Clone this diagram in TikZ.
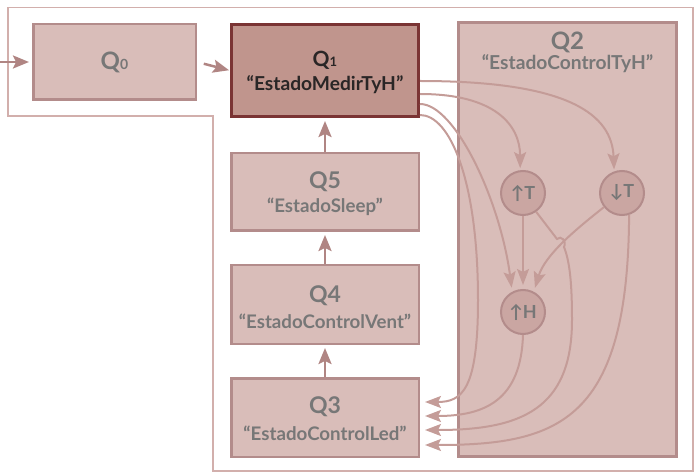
\documentclass[tikz,border=0pt]{standalone}
\usepackage{fontspec}
\setmainfont{Lato}[BoldFont={Lato Bold}]
\usetikzlibrary{arrows.meta}
\definecolor{boxfill}{HTML}{D9BDB9}
\definecolor{boxline}{HTML}{B38C8B}
\definecolor{qonefill}{HTML}{C0958D}
\definecolor{qoneline}{HTML}{7A3434}
\definecolor{txtgray}{HTML}{777777}
\definecolor{txtdark}{HTML}{2A2626}
\definecolor{curvecol}{HTML}{C49C98}
\definecolor{chaincol}{HTML}{B08583}
\definecolor{framecol}{HTML}{D2AFAC}
\definecolor{circfill}{HTML}{CAA6A2}
\begin{document}
\begin{tikzpicture}[x=1pt,y=-1pt,
  statebox/.style={draw=boxline, line width=2.5pt, fill=boxfill, inner sep=0pt},
  activebox/.style={draw=qoneline, line width=3pt, fill=qonefill, inner sep=0pt},
  subst/.style={draw=boxline, line width=2pt, fill=circfill, circle, minimum size=44pt, inner sep=0pt, text=txtgray, font=\bfseries\fontsize{18}{18}\selectfont},
  titletext/.style={text=txtgray, font=\bfseries\fontsize{23}{23}\selectfont, inner sep=0pt},
  subtext/.style={text=txtgray, font=\bfseries\fontsize{18.7}{18.7}\selectfont, inner sep=0pt},
  chainarrow/.style={draw=chaincol, line width=2.5pt, -{Stealth[length=16pt,width=13pt,inset=3pt]}},
  curvearrow/.style={draw=curvecol, line width=2pt, -{Stealth[length=16pt,width=12pt,inset=3pt]}},
  framestyle/.style={draw=framecol, line width=1.5pt}
]
\useasboundingbox (0,0) rectangle (694,473);
% outer frame
\draw[framestyle] (8,7.5) -- (693,7.5) -- (693,471) -- (213,471) -- (213,116) -- (8,116) -- cycle;

% boxes
\node[statebox, minimum width=162.5pt, minimum height=75.5pt] (q0) at (114.5,62) {};
\node[activebox, minimum width=187pt, minimum height=92pt] (q1) at (325,70.5) {};
\node[statebox, minimum width=218pt, minimum height=434pt] (q2) at (567.5,239.5) {};
\node[statebox, minimum width=187.5pt, minimum height=77.5pt] (q5) at (325,192) {};
\node[statebox, minimum width=187.5pt, minimum height=78.5pt] (q4) at (325,304.5) {};
\node[statebox, minimum width=187.5pt, minimum height=78.5pt] (q3) at (325,417.5) {};

% texts
\node[titletext, font=\bfseries\fontsize{24}{24}\selectfont] (q0t) at (114.5,62) {Q{\fontsize{14}{14}\selectfont 0}};
\node[titletext, text=txtdark, font=\bfseries\fontsize{21}{21}\selectfont] (q1t) at (325,60) {Q{\fontsize{13}{13}\selectfont 1}};
\node[subtext, text=txtdark, font=\bfseries\fontsize{19.2}{19.2}\selectfont] (q1s) at (325,85) {“EstadoMedirTyH”};
\node[titletext, font=\bfseries\fontsize{24}{24}\selectfont] (q2t) at (567.5,42) {Q2};
\node[subtext, font=\bfseries\fontsize{19.2}{19.2}\selectfont] (q2s) at (567.5,64) {“EstadoControlTyH”};
\node[titletext] (q5t) at (325,182) {Q5};
\node[subtext] (q5s) at (325,207) {“EstadoSleep”};
\node[titletext] (q4t) at (325,296) {Q4};
\node[subtext] (q4s) at (325,321) {“EstadoControlVent”};
\node[titletext] (q3t) at (325,407) {Q3};
\node[subtext] (q3s) at (325,433) {“EstadoControlLed”};

% inner states of Q2
\node[subst] (ut) at (523,193) {↑T};
\node[subst] (dt) at (622,193) {↓T};
\node[subst] (uh) at (523,312) {↑H};

% chain arrows
\coordinate (start) at (0,62);
\draw[chainarrow, shorten >=3pt] (start) -- (q0.west);
\draw[chainarrow, shorten <=7pt, shorten >=1pt] (q0.east) -- (q1.west);
\draw[chainarrow, shorten >=3pt] (q5.north) -- (q1.south);
\draw[chainarrow, shorten >=3pt] (q4.north) -- (q5.south);
\draw[chainarrow, shorten >=3pt] (q3.north) -- (q4.south);

% curve anchors
\coordinate (a1) at ([yshift=-10.5pt]q1.east);
\coordinate (a2) at ([yshift=-23.5pt]q1.east);
\coordinate (a3) at ([yshift=-33.5pt]q1.east);
\coordinate (a4) at ([yshift=-44.5pt]q1.east);
\coordinate (b1) at ([xshift=5pt,yshift=15.5pt]q3.east);
\coordinate (b2) at ([xshift=5pt,yshift=1.5pt]q3.east);
\coordinate (b3) at ([xshift=5pt,yshift=-12.5pt]q3.east);
\coordinate (b4) at ([xshift=5pt,yshift=-27.5pt]q3.east);

% curves from Q1
\draw[curvearrow, shorten >=2pt] (a1) .. controls (570,81) and (612,115) .. (dt.110);
\draw[curvearrow, shorten >=2pt] (a2) .. controls (495,94) and (520,125) .. (ut.97);
\draw[curvearrow, shorten >=4pt] (a3) .. controls (455,104) and (500,200) .. (uh.118);
\draw[curvearrow] (a4) .. controls (450,115) and (478,180) .. (478,300) .. controls (478,390) and (462,402) .. (b1);

% inside Q2
\draw[curvearrow, shorten >=4pt] (ut.south) -- (uh.north);
\draw[curvearrow, shorten >=4pt] (dt.218) .. controls (575,230) and (545,255) .. (uh.62);
\draw[curvearrow] (uh.south) .. controls (521,400) and (485,416) .. (b2);
\draw[curvearrow] (ut.-55) -- (557,239) .. controls (561,235) and (567,241) .. (564,247) .. controls (570,262) and (572,285) .. (572,320) .. controls (572,410) and (520,430) .. (b3);
\draw[curvearrow] (dt.-72) .. controls (628,420) and (560,445) .. (b4);
\end{tikzpicture}
\end{document}
